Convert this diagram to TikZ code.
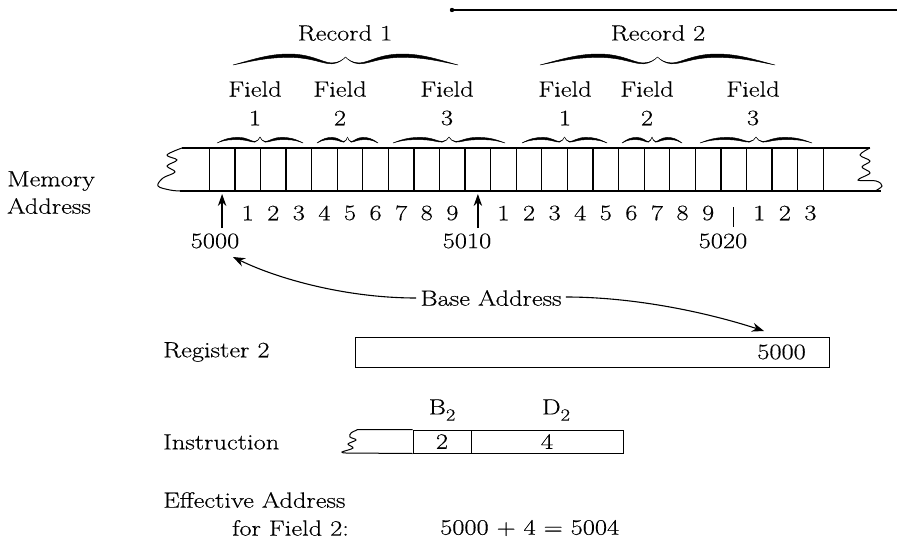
\documentclass[tikz,border=0pt]{standalone}
\usepackage{fontspec}
\setmainfont{Latin Modern Roman}[FakeStretch=1.2,FakeBold=0.4]
\usetikzlibrary{arrows.meta}

% one half of a calligraphic over-brace:
% end x, direction (+1/-1), half width, end y, tip y, thickness, hump height (fraction of end-to-tip rise)
\newcommand\halfbrace[7]{%
  \pgfmathsetmacro\ha{#4-#5}%
  \pgfmathsetmacro\hy{#4-#7*\ha}%
  \filldraw[line width=0.45pt]
    ({#1},{#4})
    .. controls ({#1+#2*0.2*#3},{#4-0.6*\ha-#6*0.4}) and ({#1+#2*0.32*#3},{\hy-#6}) .. ({#1+#2*0.5*#3},{\hy-#6})
    .. controls ({#1+#2*0.7*#3},{\hy-#6}) and ({#1+#2*0.8*#3},{#4-0.1*\ha-#6*0.35}) .. ({#1+#2*0.88*#3},{#4-0.15*\ha-#6*0.25})
    .. controls ({#1+#2*0.94*#3},{#4-0.2*\ha-#6*0.15}) and ({#1+#2*0.98*#3},{#5+0.3*\ha}) .. ({#1+#2*#3},{#5})
    .. controls ({#1+#2*0.98*#3},{#5+0.3*\ha}) and ({#1+#2*0.94*#3},{#4-0.2*\ha}) .. ({#1+#2*0.88*#3},{#4-0.15*\ha})
    .. controls ({#1+#2*0.8*#3},{#4-0.1*\ha}) and ({#1+#2*0.7*#3},{\hy}) .. ({#1+#2*0.5*#3},{\hy})
    .. controls ({#1+#2*0.32*#3},{\hy}) and ({#1+#2*0.2*#3},{#4-0.6*\ha}) .. cycle;
}
% full over-brace: left x, right x, end y, tip y, thickness, hump height
\newcommand\topbrace[6]{%
  \pgfmathsetmacro\bhw{(#2-#1)/2}%
  \halfbrace{#1}{1}{\bhw}{#3}{#4}{#5}{#6}%
  \halfbrace{#2}{-1}{\bhw}{#3}{#4}{#5}{#6}%
}
% letter with a large, low index digit
\newcommand\idx[2]{#1\raisebox{-0.28em}{\fontsize{17}{17}\selectfont #2}}

\begin{document}
\begin{tikzpicture}[x=1pt,y=-1pt,
  font=\fontsize{22}{26}\selectfont,
  txt/.style={inner sep=0pt},
  edge/.style={line width=1.2pt},
  cellline/.style={line width=1.3pt},
  boxline/.style={line width=1pt},
  uparr/.style={line width=1.3pt,-{Stealth[length=12pt,width=8.5pt]}},
  basearr/.style={line width=1.1pt,-{Stealth[length=12pt,width=9pt]}},
]
\useasboundingbox (0,0) rectangle (897,554);

% rule across the top
\draw[line width=1.3pt] (451,10) -- (897,10);
\fill (452,10) circle (2.2);

% records
\node[txt] (rec1) at (345,33) {Record 1};
\node[txt] (rec2) at (658,33) {Record 2};
\topbrace{233}{458}{65}{57}{3.4}{0.95}
\topbrace{540}{775}{65}{57}{3.4}{0.95}

% fields
\foreach \x/\n [count=\k] in {255/1,340/2,447/3,565/1,647/2,753/3}{
  \node[txt] (fld\k) at (\x,89) {Field};
  \node[txt] (fnum\k) at (\x,118) {\n};
}
\topbrace{217}{303}{143}{137}{2.3}{0.55}
\topbrace{317}{378}{143}{137}{2.3}{0.55}
\topbrace{393}{505}{143}{137}{2.3}{0.55}
\topbrace{522}{607}{143}{137}{2.3}{0.55}
\topbrace{622}{682}{143}{137}{2.3}{0.55}
\topbrace{700}{812}{143}{137}{2.3}{0.55}

% memory strip
\draw[edge] (182,148) -- (870,148);
\draw[edge] (180,191) -- (881,191);
\draw[line width=1pt] plot[smooth,tension=0.6] coordinates
  {(182,148) (167,155) (177,160) (167,166) (175,172) (163,178) (158,186) (170,190) (180,191)};
\draw[line width=1pt] plot[smooth,tension=0.6] coordinates
  {(870,148) (860,155) (870,161) (862,167) (870,173) (858,180) (876,181) (882,186) (875,191)};
\foreach \i in {0,...,24}
  \draw[cellline] ({209.3+25.58*\i},148) -- ++(0,43);

% byte numbers under the cells
\foreach \t [count=\i from 0] in {,1,2,3,4,5,6,7,8,9,,1,2,3,4,5,6,7,8,9,,1,2,3}
  \node[txt] (m\i) at ({209.3+25.58*(\i+0.5)},213) {\t};
\draw[uparr] (m0.center) ++(0,15) -- ++(0,-34);
\draw[uparr] (m10.center) ++(0,15) -- ++(0,-34);
\draw[line width=1.2pt] (m20.center) ++(0,-6) -- ++(0,20);

\node[txt] (a5000) at (215,241) {5000};
\node[txt] (a5010) at (467,241) {5010};
\node[txt] (a5020) at (723,241) {5020};

\node[txt,anchor=west] (memlbl) at (7,181) {Memory};
\node[txt,anchor=west] (adrlbl) at (7,206) {Address};

% base address pointers
\node[txt] (base) at (491,298) {Base Address};
\coordinate (tipL) at (233,257);
\coordinate (tipR) at (764,331);
\draw[basearr] (base.west) ++(-4,0) .. controls +(-70,0) and +(45,22) .. (tipL);
\draw[basearr] (base.east) ++(4,-1) .. controls +(70,0) and +(-55,-18) .. (tipR);

% register 2
\node[txt,anchor=west] (reglbl) at (163,352) {Register 2};
\node[boxline,draw,minimum width=474pt,minimum height=30pt,inner sep=0pt] (reg) at (592,352) {};
\node[txt,anchor=east] (regval) at (806,352) {5000};

% instruction
\node[txt,anchor=west] (inslbl) at (163,442) {Instruction};
\node[txt] (b2lbl) at (442,410) {\idx{B}{2}};
\node[txt] (d2lbl) at (556,410) {\idx{D}{2}};
\node[boxline,draw,minimum width=58pt,minimum height=23pt,inner sep=0pt] (fB) at (442,441.5) {2};
\node[boxline,draw,minimum width=152pt,minimum height=23pt,inner sep=0pt] (fD) at (547,441.5) {4};
\draw[boxline] (fB.north west) -- ++(-56,0)
  plot[smooth,tension=0.6] coordinates {(357,430) (351,433) (350,437) (356,440) (348,444) (353,448) (342,452) (346,453)}
  (346,453) -- (fB.south west);

% effective address
\node[txt,anchor=west] (efflbl) at (163,500) {Effective Address};
\node[txt,anchor=west] (forlbl) at (232,528) {for Field 2:};
\node[txt,anchor=west] (sum) at (440,528) {5000 + 4 = 5004};
\end{tikzpicture}
\end{document}
